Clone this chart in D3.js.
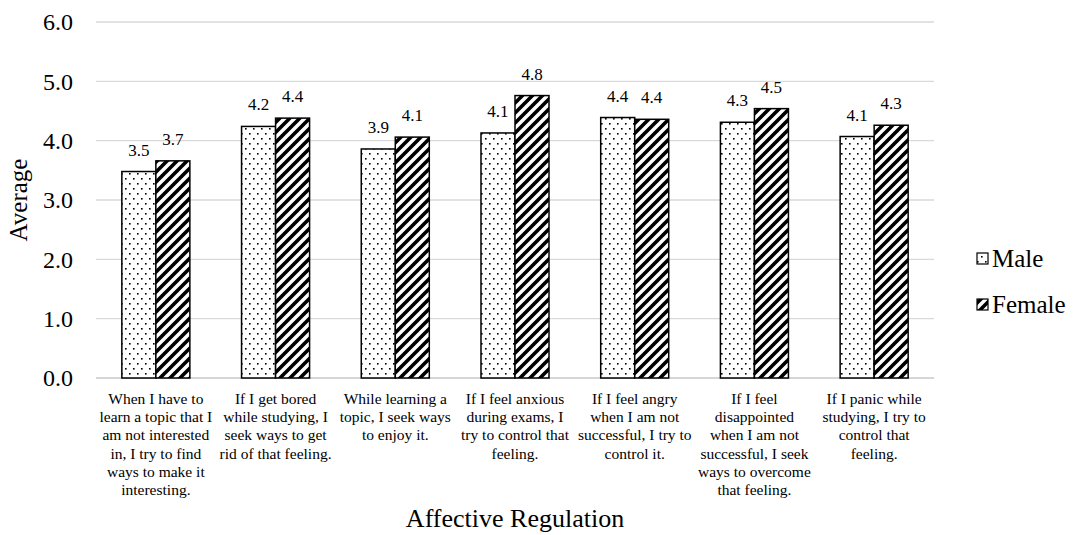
<!DOCTYPE html>
<html lang="en">
<head>
  <title>Affective Regulation</title>
  <script src="https://cdn.jsdelivr.net/npm/d3@7"></script>
  <style>
    body { margin: 0; background: #fff; }
    svg text, svg tspan { font-family: "Liberation Serif", "Times New Roman", serif !important; fill: #000; }
  </style>
</head>
<body>
  <script>
    // chart data
    const categories = [
      "When I have to learn a topic that I am not interested in, I try to find ways to make it interesting.",
      "If I get bored while studying, I seek ways to get rid of that feeling.",
      "While learning a topic, I seek ways to enjoy it.",
      "If I feel anxious during exams, I try to control that feeling.",
      "If I feel angry when I am not successful, I try to control it.",
      "If I feel disappointed when I am not successful, I seek ways to overcome that feeling.",
      "If I panic while studying, I try to control that feeling."
    ];
    const seriesNames = ["Male", "Female"];
    const maleValues = [3.48, 4.24, 3.86, 4.13, 4.39, 4.31, 4.07];
    const femaleValues = [3.66, 4.38, 4.06, 4.76, 4.36, 4.54, 4.26];
    const yTicks = [0, 1, 2, 3, 4, 5, 6];

    const FONT = "Liberation Serif";
    const width = 1078, height = 535;
    const margins = { left: 96, top: 22, right: 144, bottom: 157 };
    const plotW = width - margins.left - margins.right;
    const plotH = height - margins.top - margins.bottom;

    const svg = d3.select("body").append("svg")
      .attr("width", width)
      .attr("height", height)
      .attr("font-family", FONT);

    // fill patterns
    const defs = svg.append("defs");
    const dots = defs.append("pattern")
      .attr("id", "dots")
      .attr("patternUnits", "userSpaceOnUse")
      .attr("width", 8).attr("height", 10);
    dots.append("rect").attr("width", 8).attr("height", 10).attr("fill", "#fff");
    dots.append("rect").attr("x", 1).attr("y", 1).attr("width", 1.6).attr("height", 1.6).attr("fill", "#000");
    dots.append("rect").attr("x", 5).attr("y", 6).attr("width", 1.6).attr("height", 1.6).attr("fill", "#000");

    const stripes = defs.append("pattern")
      .attr("id", "stripes")
      .attr("patternUnits", "userSpaceOnUse")
      .attr("width", 10).attr("height", 10);
    stripes.append("rect").attr("width", 10).attr("height", 10).attr("fill", "#fff");
    stripes.append("path")
      .attr("d", "M-2,2 L2,-2 M0,10 L10,0 M8,12 L12,8")
      .attr("stroke", "#000")
      .attr("stroke-width", 3.6);

    const fills = ["url(#dots)", "url(#stripes)"];

    const container = svg.append("g")
      .attr("transform", `translate(${margins.left}, ${margins.top})`);

    // scales
    const xScale = d3.scaleBand()
      .domain(categories)
      .range([0, plotW]);
    const xInner = d3.scaleBand()
      .domain(seriesNames)
      .range([0, xScale.bandwidth()])
      .paddingInner(0)
      .paddingOuter(0.76);
    const yScale = d3.scaleLinear()
      .domain([0, 6])
      .range([plotH, 0]);

    // gridlines
    container.append("g").selectAll("line").data(yTicks).join("line")
      .attr("x1", 0).attr("x2", plotW)
      .attr("y1", d => yScale(d)).attr("y2", d => yScale(d))
      .attr("stroke", d => d === 0 ? "#c8c8c8" : "#d9d9d9")
      .attr("stroke-width", 1.3);

    // y tick labels
    const yAxis = d3.axisLeft(yScale)
      .tickValues(yTicks)
      .tickFormat(d3.format(".1f"))
      .tickSize(0)
      .tickPadding(23);
    const yAxisG = container.append("g").call(yAxis)
      .attr("font-family", FONT)
      .attr("font-size", 24);
    yAxisG.select(".domain").remove();

    // bars
    const bars = [];
    categories.forEach((c, i) => {
      bars.push({ category: c, name: seriesNames[0], value: maleValues[i], j: 0 });
      bars.push({ category: c, name: seriesNames[1], value: femaleValues[i], j: 1 });
    });
    const barX = d => xScale(d.category) + xInner(d.name);
    container.append("g").selectAll("rect").data(bars).join("rect")
      .attr("x", barX)
      .attr("y", d => yScale(d.value))
      .attr("width", xInner.bandwidth())
      .attr("height", d => plotH - yScale(d.value))
      .attr("fill", d => fills[d.j])
      .attr("stroke", "#000")
      .attr("stroke-width", 1.5);

    // data labels
    container.append("g").selectAll("text").data(bars).join("text")
      .attr("x", d => barX(d) + xInner.bandwidth() / 2)
      .attr("y", d => yScale(d.value) - 16)
      .attr("text-anchor", "middle")
      .attr("style", "font-family: 'Liberation Serif', serif; font-size: 17px")
      .text(d => d3.format(".1f")(d.value));

    // category labels, wrapped
    const catFont = 15.5;
    const maxLine = 7.45 * catFont;
    const measure = svg.append("text").attr("font-size", catFont);
    function wrap(str) {
      const words = str.split(" ");
      const lines = [];
      let line = "";
      words.forEach(w => {
        const test = line ? line + " " + w : w;
        measure.text(test);
        if (line && measure.node().getComputedTextLength() > maxLine) {
          lines.push(line);
          line = w;
        } else {
          line = test;
        }
      });
      if (line) lines.push(line);
      return lines;
    }
    const catLabels = container.append("g").selectAll("text").data(categories).join("text")
      .attr("text-anchor", "middle")
      .attr("transform", d => `translate(${xScale(d) + xScale.bandwidth() / 2}, ${plotH + 26})`)
      .attr("font-size", catFont);
    catLabels.each(function (d) {
      d3.select(this).selectAll("tspan").data(wrap(d)).join("tspan")
        .attr("x", 0)
        .attr("dy", (l, i) => i === 0 ? 0 : 18.2)
        .text(l => l);
    });
    measure.remove();

    // axis titles
    svg.append("text")
      .attr("transform", `translate(${margins.left + plotW / 2}, 527)`)
      .attr("text-anchor", "middle")
      .attr("font-size", 26)
      .text("Affective Regulation");
    svg.append("text")
      .attr("transform", `translate(27, ${margins.top + plotH / 2}) rotate(-90)`)
      .attr("text-anchor", "middle")
      .attr("font-size", 25)
      .text("Average");

    // legend
    const legendY = d3.scalePoint().domain(seriesNames).range([253, 299]);
    svg.append("g").selectAll("rect").data(seriesNames).join("rect")
      .attr("x", 977).attr("y", d => legendY(d))
      .attr("width", 11).attr("height", 11)
      .attr("fill", (d, i) => fills[i])
      .attr("stroke", "#000")
      .attr("stroke-width", 1.2);
    svg.append("g").selectAll("text").data(seriesNames).join("text")
      .attr("x", 992).attr("y", d => legendY(d) + 13.5)
      .attr("style", "font-family: 'Liberation Serif', serif; font-size: 25px")
      .text(d => d);
  </script>
</body>
</html>
